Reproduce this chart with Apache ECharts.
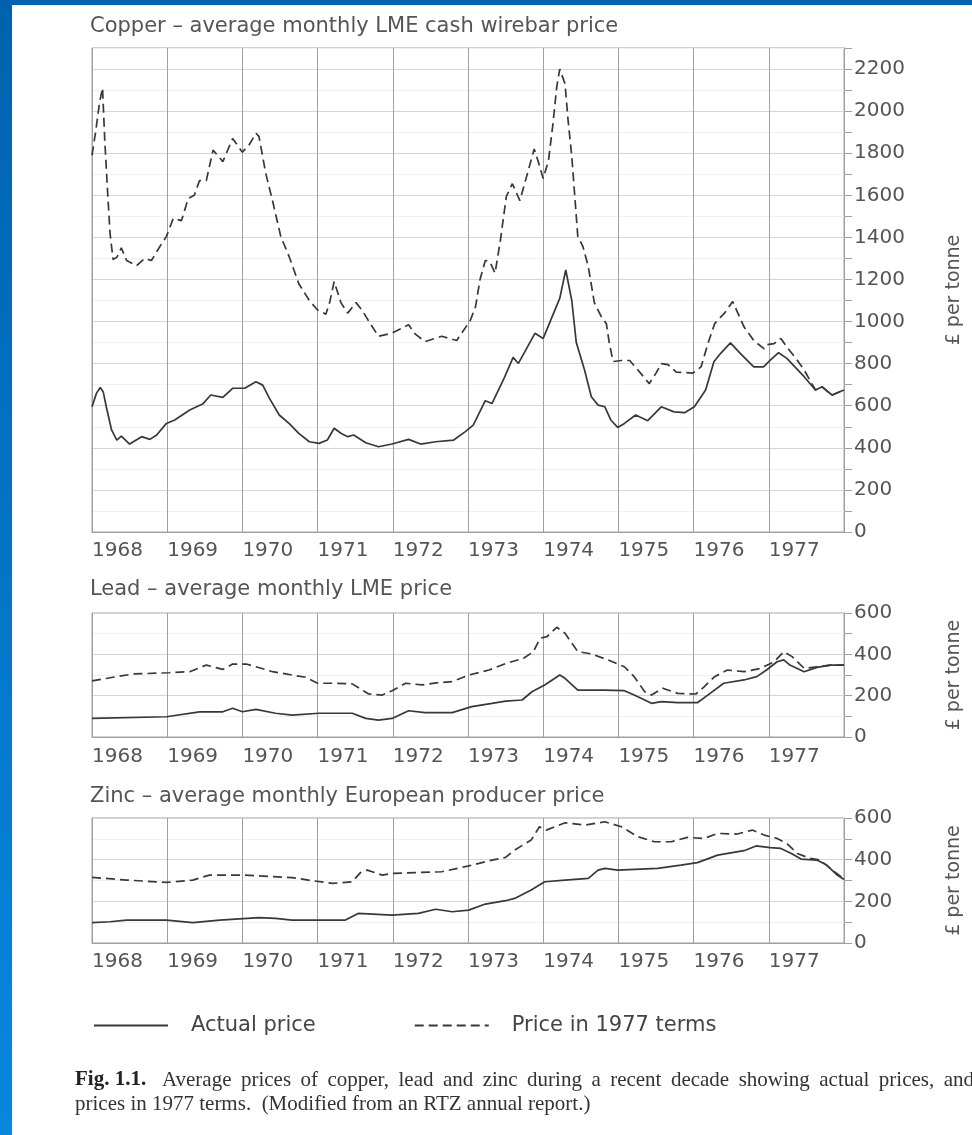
<!DOCTYPE html>
<html>
<head>
<meta charset="utf-8">
<script src="https://cdn.jsdelivr.net/npm/echarts@6/dist/echarts.min.js"></script>
<style>
html,body{margin:0;padding:0;background:#fff;}
#chart{width:972px;height:1135px;}
</style>
</head>
<body>
<div id="chart"></div>
<script>
// ---- Data: [decimal year, £ per tonne] ----
const yearTicks = [1968, 1969, 1970, 1971, 1972, 1973, 1974, 1975, 1976, 1977];

const copperActual = [[1968.00,595],[1968.06,660],[1968.11,687],[1968.15,665],[1968.19,595],[1968.26,485],[1968.33,437],[1968.39,456],[1968.50,418],[1968.66,453],[1968.77,440],[1968.86,461],[1968.99,516],[1969.10,532],[1969.30,580],[1969.47,608],[1969.58,651],[1969.74,640],[1969.87,683],[1970.03,683],[1970.18,714],[1970.27,698],[1970.36,635],[1970.49,556],[1970.62,516],[1970.75,469],[1970.89,429],[1971.02,421],[1971.13,437],[1971.22,493],[1971.31,469],[1971.40,453],[1971.48,461],[1971.64,424],[1971.81,405],[1971.99,418],[1972.21,440],[1972.37,418],[1972.57,429],[1972.81,437],[1972.96,476],[1973.07,508],[1973.23,624],[1973.32,611],[1973.49,738],[1973.60,830],[1973.67,801],[1973.89,944],[1974.00,920],[1974.11,1015],[1974.22,1110],[1974.30,1245],[1974.38,1100],[1974.44,900],[1974.55,770],[1974.64,643],[1974.73,603],[1974.82,595],[1974.90,532],[1974.99,497],[1975.08,516],[1975.23,556],[1975.39,529],[1975.57,595],[1975.74,571],[1975.88,567],[1976.01,595],[1976.16,675],[1976.27,809],[1976.36,849],[1976.49,899],[1976.62,849],[1976.80,785],[1976.93,785],[1977.02,817],[1977.13,852],[1977.24,825],[1977.47,738],[1977.62,675],[1977.71,690],[1977.84,651],[1978.00,675]];

const copperReal = [[1968.00,1790],[1968.05,1905],[1968.10,2040],[1968.14,2110],[1968.17,1860],[1968.21,1600],[1968.24,1420],[1968.28,1295],[1968.33,1305],[1968.39,1350],[1968.46,1290],[1968.59,1265],[1968.70,1300],[1968.79,1290],[1968.90,1355],[1968.99,1405],[1969.08,1490],[1969.19,1480],[1969.28,1585],[1969.36,1600],[1969.43,1670],[1969.52,1670],[1969.61,1815],[1969.74,1760],[1969.87,1870],[1970.00,1805],[1970.09,1840],[1970.18,1895],[1970.22,1880],[1970.31,1705],[1970.40,1575],[1970.51,1405],[1970.62,1310],[1970.75,1180],[1970.89,1100],[1971.00,1055],[1971.11,1035],[1971.16,1090],[1971.22,1190],[1971.31,1090],[1971.40,1040],[1971.51,1090],[1971.59,1055],[1971.70,990],[1971.81,930],[1971.99,945],[1972.21,985],[1972.30,940],[1972.43,905],[1972.65,930],[1972.85,910],[1973.03,1005],[1973.10,1070],[1973.16,1200],[1973.23,1290],[1973.29,1285],[1973.36,1230],[1973.43,1385],[1973.51,1595],[1973.59,1655],[1973.69,1575],[1973.78,1690],[1973.88,1820],[1973.93,1765],[1974.00,1680],[1974.07,1765],[1974.13,1940],[1974.18,2115],[1974.22,2200],[1974.29,2130],[1974.33,1960],[1974.38,1785],[1974.42,1595],[1974.46,1405],[1974.53,1355],[1974.60,1260],[1974.68,1090],[1974.77,1025],[1974.84,990],[1974.88,895],[1974.93,810],[1975.04,815],[1975.15,815],[1975.26,770],[1975.41,705],[1975.50,755],[1975.57,800],[1975.66,795],[1975.77,760],[1975.99,755],[1976.10,785],[1976.19,895],[1976.28,990],[1976.41,1040],[1976.52,1095],[1976.67,975],[1976.80,910],[1976.94,870],[1976.98,890],[1977.07,895],[1977.16,920],[1977.24,880],[1977.38,815],[1977.47,770],[1977.62,675],[1977.71,690],[1977.84,650],[1978.00,675]];

const leadActual = [[1968.00,90],[1968.99,98],[1969.43,122],[1969.74,122],[1969.87,139],[1970.00,122],[1970.18,134],[1970.44,115],[1970.66,106],[1971.02,115],[1971.46,115],[1971.64,90],[1971.81,82],[1971.99,90],[1972.21,127],[1972.43,118],[1972.79,118],[1973.05,147],[1973.32,163],[1973.50,174],[1973.72,179],[1973.85,219],[1974.02,252],[1974.22,300],[1974.29,284],[1974.46,227],[1974.81,227],[1975.08,224],[1975.21,203],[1975.44,163],[1975.57,171],[1975.79,166],[1976.05,166],[1976.22,211],[1976.40,260],[1976.67,276],[1976.84,292],[1976.97,324],[1977.11,364],[1977.20,373],[1977.28,348],[1977.47,316],[1977.64,337],[1977.82,348],[1978.00,348]];

const leadReal = [[1968.00,272],[1968.28,289],[1968.55,305],[1969.03,311],[1969.30,316],[1969.52,348],[1969.74,327],[1969.87,353],[1970.05,353],[1970.18,340],[1970.40,316],[1970.66,300],[1970.84,289],[1971.00,260],[1971.24,260],[1971.46,257],[1971.68,208],[1971.86,203],[1971.99,224],[1972.17,260],[1972.39,252],[1972.61,263],[1972.79,268],[1973.01,300],[1973.28,324],[1973.51,357],[1973.74,381],[1973.87,413],[1973.96,478],[1974.05,486],[1974.18,531],[1974.29,502],[1974.46,413],[1974.64,402],[1974.86,373],[1975.08,340],[1975.21,292],[1975.35,219],[1975.44,203],[1975.59,236],[1975.79,211],[1976.03,208],[1976.14,243],[1976.28,292],[1976.45,324],[1976.67,316],[1976.89,332],[1977.07,364],[1977.20,413],[1977.31,389],[1977.47,332],[1977.64,340],[1977.82,348],[1978.00,348]];

const zincActual = [[1968.00,98],[1968.24,102],[1968.46,110],[1968.99,110],[1969.34,98],[1969.70,110],[1970.22,122],[1970.44,118],[1970.66,110],[1971.37,110],[1971.54,142],[1971.99,134],[1972.34,142],[1972.57,162],[1972.79,150],[1973.01,158],[1973.23,187],[1973.50,203],[1973.62,214],[1973.84,254],[1974.02,294],[1974.29,302],[1974.60,310],[1974.73,350],[1974.82,358],[1974.99,350],[1975.52,358],[1975.83,374],[1976.05,386],[1976.32,422],[1976.67,443],[1976.83,466],[1977.02,458],[1977.16,454],[1977.30,430],[1977.43,403],[1977.64,398],[1977.77,374],[1977.91,326],[1978.00,305]];

const zincReal = [[1968.00,315],[1968.46,302],[1968.99,291],[1969.34,302],[1969.56,326],[1970.00,326],[1970.66,314],[1970.93,299],[1971.20,286],[1971.46,294],[1971.57,338],[1971.66,350],[1971.86,326],[1971.99,334],[1972.65,342],[1973.01,370],[1973.32,398],[1973.50,411],[1973.62,446],[1973.84,494],[1973.95,558],[1974.04,542],[1974.29,577],[1974.55,566],[1974.82,582],[1975.04,558],[1975.26,510],[1975.48,486],[1975.70,486],[1975.92,507],[1976.14,502],[1976.32,526],[1976.58,523],[1976.78,542],[1976.94,518],[1977.11,502],[1977.24,478],[1977.38,430],[1977.55,406],[1977.68,398],[1977.82,358],[1977.96,318],[1978.00,305]];

const panelTitles = [
  'Copper \u2013 average monthly LME cash wirebar price',
  'Lead \u2013 average monthly LME price',
  'Zinc \u2013 average monthly European producer price'
];
const seriesNames = ['Actual price', 'Price in 1977 terms'];
const yMax = [2300, 600, 600];
const unitLabel = '\u00a3 per tonne';
const captionBold = 'Fig. 1.1.';
const captionLine1 = 'Average prices of copper, lead and zinc during a recent decade showing actual prices, and';
const captionLine2 = 'prices in 1977 terms.  (Modified from an RTZ annual report.)';

// ---- Layout ----
const FONT = 'DejaVu Sans';
const TXT = '#555';
const GRIDC = '#a0a0a0';
const INK = '#383838';
const grids = [
  {left: 92, right: 125, top: 48, height: 484},
  {left: 92, right: 125, top: 613, height: 124},
  {left: 92, right: 125, top: 818, height: 125}
];
const labelMargins = [9, 10, 9];
const titleTops = [16, 579, 786];

const chart = echarts.init(document.getElementById('chart'), null, {renderer: 'canvas'});

const xAxes = grids.map((g, i) => ({
  type: 'value', gridIndex: i, min: 1968, max: 1978, interval: 1,
  axisLine: {show: true, lineStyle: {color: GRIDC}},
  axisTick: {show: false},
  axisLabel: {
    margin: labelMargins[i], align: 'left', color: TXT, fontFamily: FONT, fontSize: 20,
    formatter: v => (yearTicks.indexOf(v) >= 0 ? String(v) : '')
  },
  splitLine: {show: true, lineStyle: {color: GRIDC, width: 1}}
}));

const yAxes = grids.map((g, i) => ({
  type: 'value', gridIndex: i, position: 'right', min: 0, max: yMax[i], interval: 100,
  axisLine: {show: true, lineStyle: {color: GRIDC}},
  axisTick: {show: true, length: 8, lineStyle: {color: GRIDC}},
  axisLabel: {interval: 1, margin: 10, color: TXT, fontFamily: FONT, fontSize: 20,
    formatter: v => (v % 200 === 0 ? String(v) : '')},
  splitLine: {show: true, lineStyle: {color: ['#d6d6d6', '#f0f0f0'], width: 1}},
  name: unitLabel, nameLocation: 'middle', nameRotate: 90, nameGap: 101,
  nameTextStyle: {color: TXT, fontFamily: FONT, fontSize: 19}
}));

function lineSeries(name, data, idx, dashed) {
  return {
    name: name, type: 'line', xAxisIndex: idx, yAxisIndex: idx, data: data,
    showSymbol: false, symbol: 'none', smooth: false,
    lineStyle: {color: INK, width: 1.7, type: dashed ? [9, 5] : 'solid'},
    itemStyle: {color: INK}, z: 3
  };
}

const blueGrad = new echarts.graphic.LinearGradient(0, 0, 0, 1, [
  {offset: 0, color: '#0062ae'}, {offset: 1, color: '#0887de'}
]);

const option = {
  backgroundColor: '#ffffff',
  animation: false,
  title: panelTitles.map((t, i) => ({
    text: t, left: 90, top: titleTops[i], padding: 0,
    textStyle: {color: TXT, fontFamily: FONT, fontSize: 21, fontWeight: 'normal'}
  })),
  legend: {
    data: seriesNames, left: 93, top: 1015, padding: 0, itemWidth: 74, itemHeight: 14, itemGap: 98,
    itemStyle: {opacity: 0},
    textStyle: {color: '#444', fontFamily: FONT, fontSize: 21, padding: [0, 0, 0, 18]}
  },
  grid: grids.map(g => Object.assign({show: true, borderColor: GRIDC, borderWidth: 1, backgroundColor: 'transparent'}, g)),
  xAxis: xAxes,
  yAxis: yAxes,
  series: [
    lineSeries(seriesNames[0], copperActual, 0, false),
    lineSeries(seriesNames[1], copperReal, 0, true),
    lineSeries(seriesNames[0], leadActual, 1, false),
    lineSeries(seriesNames[1], leadReal, 1, true),
    lineSeries(seriesNames[0], zincActual, 2, false),
    lineSeries(seriesNames[1], zincReal, 2, true)
  ],
  graphic: [
    {type: 'rect', left: 0, top: 0, shape: {width: 12, height: 1135}, style: {fill: blueGrad}, z: 100},
    {type: 'rect', left: 0, top: 0, shape: {width: 972, height: 5}, style: {fill: '#0062ae'}, z: 100},
    {type: 'text', left: 75, top: 1068, z: 10,
      style: {
        text: '{b|' + captionBold + '}   ' + captionLine1.split(' ').join(' \u2009') + '\n' + captionLine2,
        fill: '#333', font: '21px "Liberation Serif"', lineHeight: 24,
        rich: {b: {fontWeight: 'bold', fontFamily: 'Liberation Serif', fontSize: 21, fill: '#222'}}
      }}
  ]
};
chart.setOption(option);
</script>
</body>
</html>
